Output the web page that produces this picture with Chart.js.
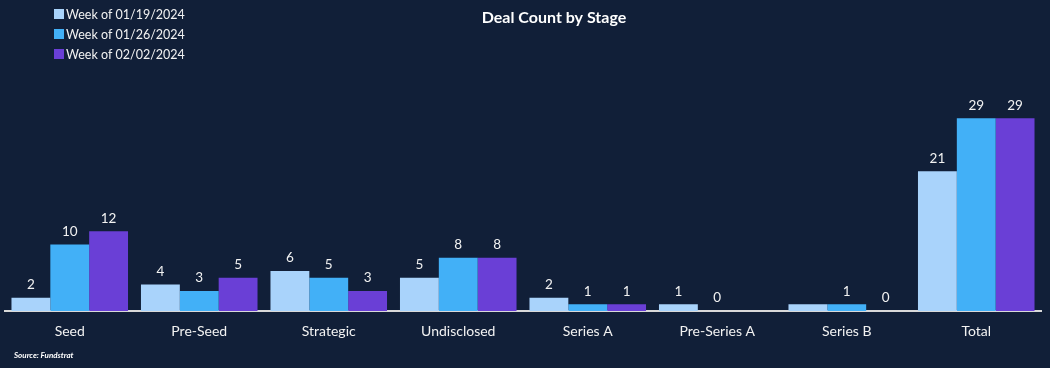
<!DOCTYPE html>
<html>
<head>
<meta charset="utf-8">
<script src="https://cdn.jsdelivr.net/npm/chart.js@4.4.1/dist/chart.umd.min.js"></script>
<style>
  html, body { margin: 0; padding: 0; background: #111f38; }
  #wrap { width: 1050px; height: 368px; }
</style>
</head>
<body>
<div id="wrap"><canvas id="chart"></canvas></div>
<script>
const categories = ["Seed", "Pre-Seed", "Strategic", "Undisclosed", "Series A", "Pre-Series A", "Series B", "Total"];
const seriesNames = ["Week of 01/19/2024", "Week of 01/26/2024", "Week of 02/02/2024"];
const week0119 = [2, 4, 6, 5, 2, 1, 1, 21];
const week0126 = [10, 3, 5, 8, 1, 0, 1, 29];
const week0202 = [12, 5, 3, 8, 1, null, 0, 29];
// the reference shows no value label on this bar
const hiddenLabels = [[0, 6]];

const colors = ["#a9d3fb", "#42b0f7", "#6a3fd6"];
const FONT = "Lato, 'Open Sans', sans-serif";

const overlay = {
  id: "overlay",
  afterDatasetsDraw(chart) {
    const ctx = chart.ctx;
    ctx.save();
    // value labels
    ctx.fillStyle = "#f2f2f2";
    ctx.font = "13.5px " + FONT;
    ctx.textAlign = "center";
    ctx.textBaseline = "middle";
    chart.data.datasets.forEach((ds, i) => {
      chart.getDatasetMeta(i).data.forEach((bar, j) => {
        const v = ds.data[j];
        if (v === null || v === undefined) return;
        if (hiddenLabels.some(h => h[0] === i && h[1] === j)) return;
        ctx.fillText(String(v), bar.x, bar.y - 13);
      });
    });
    // title
    ctx.font = "bold 16px " + FONT;
    ctx.fillStyle = "#ffffff";
    ctx.fillText("Deal Count by Stage", 554, 18);
    // legend
    ctx.textAlign = "left";
    ctx.font = "12.5px " + FONT;
    chart.data.datasets.forEach((ds, i) => {
      const y = 14 + i * 20;
      ctx.fillStyle = ds.backgroundColor;
      ctx.fillRect(54, y - 5, 10, 10);
      ctx.fillStyle = "#f2f2f2";
      ctx.fillText(ds.label, 66, y + 1);
    });
    // source
    ctx.font = "italic bold 8px " + FONT;
    ctx.fillStyle = "#ffffff";
    ctx.fillText("Source: Fundstrat", 14, 355);
    ctx.restore();
  }
};

const values = [week0119, week0126, week0202];

new Chart(document.getElementById("chart"), {
  type: "bar",
  data: {
    labels: categories,
    datasets: seriesNames.map((name, i) => ({
      label: name,
      data: values[i],
      backgroundColor: colors[i],
      borderWidth: 0,
      barPercentage: 1,
      categoryPercentage: 0.9
    }))
  },
  options: {
    responsive: true,
    maintainAspectRatio: false,
    animation: false,
    layout: { padding: { left: 5, right: 9, top: 45, bottom: 0 } },
    plugins: {
      legend: { display: false },
      title: { display: false },
      tooltip: { enabled: false }
    },
    scales: {
      x: {
        grid: { display: false, drawTicks: false },
        border: { display: true, color: "#d9d9d9", width: 2 },
        ticks: { color: "#f2f2f2", font: { family: FONT, size: 14 }, padding: 12 },
        afterFit(scale) { scale.height = 57; }
      },
      y: {
        display: false,
        min: 0,
        max: 40
      }
    }
  },
  plugins: [overlay]
});
</script>
</body>
</html>
